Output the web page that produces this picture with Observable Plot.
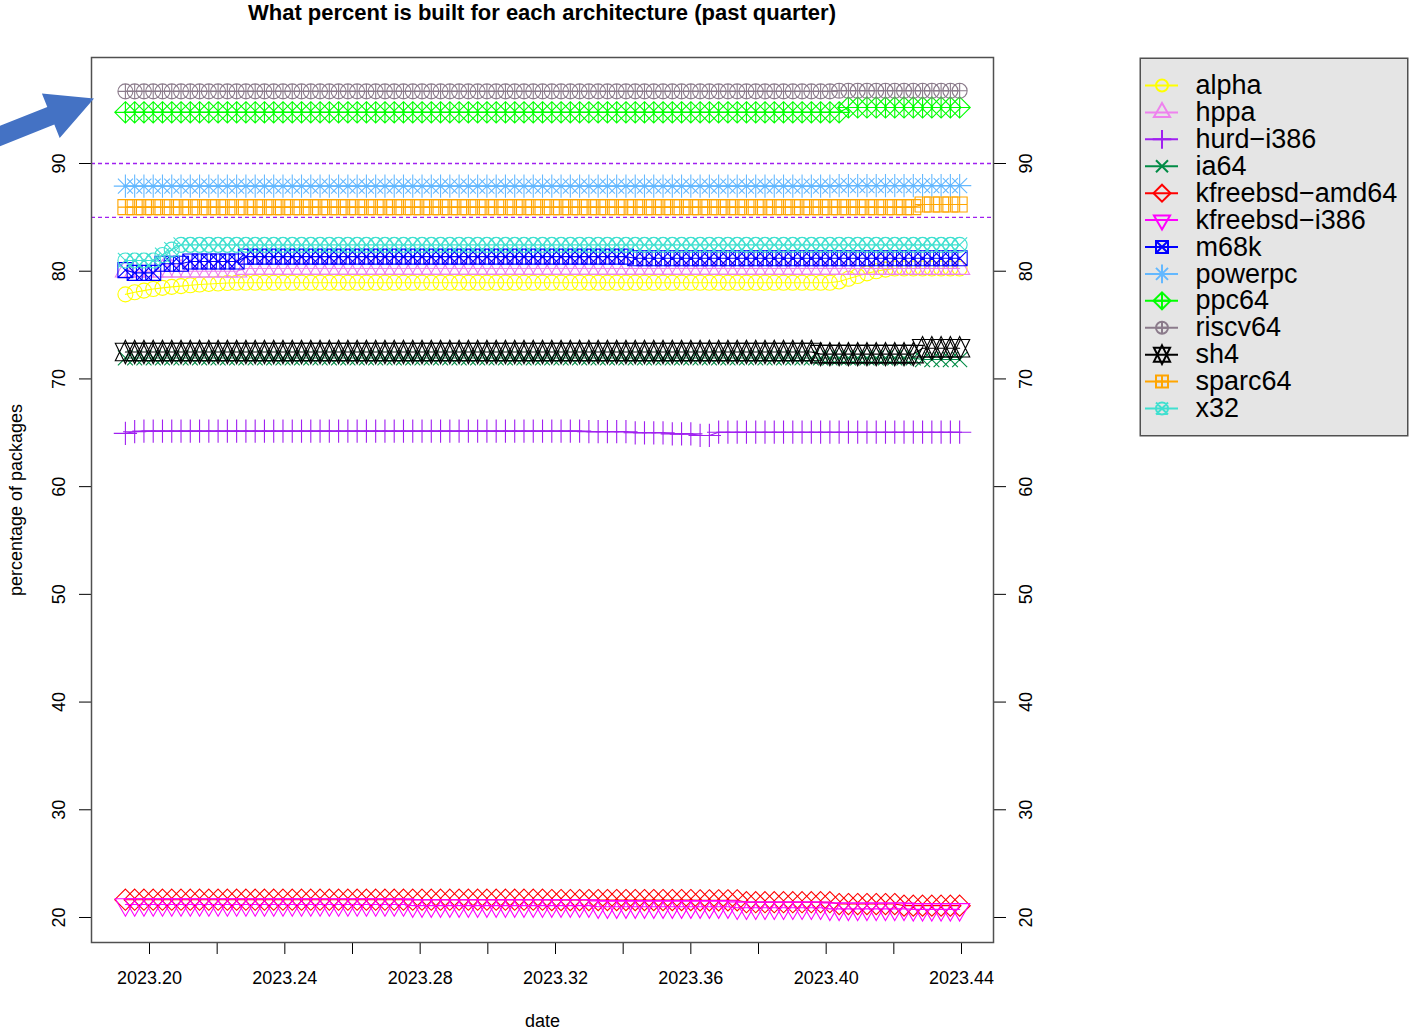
<!DOCTYPE html>
<html><head><meta charset="utf-8">
<script src="https://cdn.jsdelivr.net/npm/d3@7"></script>
<script src="https://cdn.jsdelivr.net/npm/@observablehq/plot@0.6"></script>
<style>
html,body{margin:0;padding:0;background:#fff;}
#wrap{position:relative;width:1409px;height:1032px;overflow:hidden;font-family:"Liberation Sans",Arial,Helvetica,sans-serif;}
#title{height:26px;line-height:26px;margin-left:91px;width:902px;text-align:center;font-weight:bold;font-size:22px;color:#000;white-space:nowrap;}
#legend{position:absolute;left:1139px;top:57px;}
#arrow{position:absolute;left:0;top:0;}
</style></head><body>
<div id="wrap">
<div id="title">What percent is built for each architecture (past quarter)</div>
<div id="chart"></div>
<div id="legend"></div>
<svg id="arrow" width="100" height="150" viewBox="0 0 100 150"><polygon points="-8.4,129.2 47.3,107 41.9,93.5 94,98.5 59.7,138.1 54.3,124.6 -1.4,146.8" fill="#4472C4"/></svg>
</div>
<script>
// ---- categories ----
const names = ["alpha","hppa","hurd-i386","ia64","kfreebsd-amd64","kfreebsd-i386","m68k","powerpc","ppc64","riscv64","sh4","sparc64","x32"];
const colors = ["#FFFF00","#EE82EE","#A020F0","#008B45","#FF0000","#FF00FF","#0000FF","#63B8FF","#00FF00","#8B7B8B","#000000","#FFA500","#40E0D0"];

// ---- dates: day of year (0-based) of each sample, 2023 ----
const year = 2023;
const dayFraction = 0.4;
const days = [70,71,72,73,74,75,76,77,78,79,
80,81,82,83,84,85,86,87,88,89,
90,91,92,93,94,95,96,97,98,99,
100,101,102,103,104,105,106,107,108,109,
110,111,112,113,114,115,116,117,118,119,
120,121,122,123,124,125,126,127,128,129,
130,131,132,133,134,135,136,137,138,139,
140,141,142,143,144,145,146,147,148,149,
150,151,152,153,154,155,156,157,158,159,
160];

// ---- tick labels ----
const xTicks = [2023.20,2023.22,2023.24,2023.26,2023.28,2023.30,2023.32,2023.34,2023.36,2023.38,2023.40,2023.42,2023.44];
const xLabels = [2023.20,2023.24,2023.28,2023.32,2023.36,2023.40,2023.44];
const yTicks = [20,30,40,50,60,70,80,90];
const refLines = [90,85];

// ---- series values (percentage of packages) ----
const alpha = [77.85,78.05,78.2,78.35,78.45,78.55,78.62,78.7,78.76,78.82,
78.86,78.9,78.93,78.93,78.93,78.93,78.93,78.93,78.93,78.93,
78.93,78.93,78.93,78.93,78.93,78.93,78.93,78.93,78.93,78.93,
78.93,78.93,78.93,78.93,78.93,78.93,78.93,78.93,78.93,78.93,
78.93,78.93,78.93,78.93,78.93,78.93,78.93,78.93,78.93,78.93,
78.93,78.93,78.93,78.93,78.93,78.93,78.93,78.93,78.93,78.93,
78.93,78.93,78.93,78.93,78.93,78.93,78.93,78.93,78.93,78.93,
78.93,78.93,78.93,78.93,78.93,78.93,78.93,79.05,79.3,79.55,
79.8,80.0,80.15,80.25,80.25,80.25,80.25,80.25,80.25,80.25,
80.25];
const hppa = [80.0,80.0,80.0,80.0,80.0,80.0,80.0,80.0,80.0,80.0,
80.0,80.0,80.0,80.25,80.25,80.25,80.25,80.25,80.25,80.25,
80.25,80.25,80.25,80.25,80.25,80.25,80.25,80.25,80.25,80.25,
80.25,80.25,80.25,80.25,80.25,80.25,80.25,80.25,80.25,80.25,
80.25,80.25,80.25,80.25,80.25,80.25,80.25,80.25,80.25,80.25,
80.25,80.25,80.25,80.25,80.25,80.25,80.25,80.25,80.25,80.25,
80.25,80.25,80.25,80.25,80.25,80.25,80.25,80.25,80.25,80.25,
80.25,80.25,80.25,80.25,80.25,80.25,80.25,80.25,80.25,80.25,
80.25,80.25,80.25,80.25,80.25,80.25,80.25,80.25,80.25,80.25,
80.25];
const hurd_i386 = [64.95,65.1,65.15,65.15,65.15,65.15,65.15,65.15,65.15,65.15,
65.15,65.15,65.15,65.15,65.15,65.15,65.15,65.15,65.15,65.15,
65.15,65.15,65.15,65.15,65.15,65.15,65.15,65.15,65.15,65.15,
65.15,65.15,65.15,65.15,65.15,65.15,65.15,65.15,65.15,65.15,
65.15,65.15,65.15,65.15,65.15,65.15,65.15,65.15,65.15,65.15,
65.1,65.1,65.1,65.1,65.1,65.0,65.0,65.0,65.0,64.9,
64.9,64.9,64.75,64.75,65.05,65.05,65.05,65.05,65.05,65.05,
65.05,65.05,65.05,65.05,65.05,65.05,65.05,65.05,65.05,65.05,
65.05,65.05,65.05,65.05,65.05,65.05,65.05,65.05,65.05,65.05,
65.05];
const ia64 = [71.95,71.95,71.95,71.95,71.95,71.95,71.95,71.95,71.95,71.95,
71.95,71.95,71.95,71.95,71.95,71.95,71.95,71.95,71.95,71.95,
71.95,71.95,71.95,71.95,71.95,71.95,71.95,71.95,71.95,71.95,
71.95,71.95,71.95,71.95,71.95,71.95,71.95,71.95,71.95,71.95,
71.95,71.95,71.95,71.95,71.95,71.95,71.95,71.95,71.95,71.95,
71.95,71.95,71.95,71.95,71.95,71.95,71.95,71.95,71.95,71.95,
71.95,71.95,71.95,71.95,71.95,71.95,71.95,71.95,71.95,71.95,
71.95,71.95,71.95,71.95,71.95,71.95,71.95,71.95,71.95,71.95,
71.95,71.95,71.95,71.95,71.95,71.95,71.8,71.8,71.8,71.8,
71.8];
const kfreebsd_amd64 = [21.65,21.65,21.65,21.65,21.65,21.65,21.65,21.65,21.65,21.65,
21.65,21.65,21.65,21.65,21.65,21.65,21.65,21.65,21.65,21.65,
21.65,21.65,21.65,21.65,21.65,21.65,21.65,21.65,21.65,21.65,
21.65,21.65,21.65,21.65,21.65,21.65,21.65,21.65,21.65,21.65,
21.65,21.65,21.65,21.65,21.65,21.65,21.62,21.62,21.62,21.62,
21.62,21.62,21.62,21.62,21.62,21.62,21.62,21.62,21.62,21.62,
21.62,21.62,21.6,21.6,21.6,21.6,21.6,21.42,21.42,21.42,
21.42,21.42,21.42,21.42,21.42,21.42,21.42,21.25,21.25,21.25,
21.25,21.25,21.25,21.25,21.1,21.1,21.1,21.1,21.1,21.1,
21.1];
const kfreebsd_i386 = [21.2,21.2,21.2,21.2,21.2,21.2,21.2,21.2,21.2,21.2,
21.2,21.2,21.2,21.2,21.2,21.2,21.2,21.2,21.2,21.2,
21.2,21.2,21.2,21.2,21.2,21.2,21.2,21.2,21.2,21.2,
21.2,21.1,21.1,21.1,21.1,21.1,21.1,21.1,21.1,21.1,
21.1,21.1,21.1,21.1,21.1,21.1,21.1,21.1,21.1,21.1,
21.1,21.0,21.0,21.0,21.0,21.0,21.0,21.0,21.0,21.0,
21.0,21.0,21.0,21.0,21.0,21.0,20.9,20.9,20.9,20.9,
20.9,20.9,20.9,20.9,20.9,20.9,20.8,20.8,20.8,20.8,
20.8,20.8,20.8,20.8,20.8,20.75,20.75,20.75,20.75,20.75,
20.75];
const m68k = [80.1,79.85,79.85,79.85,80.7,80.7,80.7,80.9,80.9,80.9,
80.9,80.9,80.9,81.35,81.35,81.35,81.35,81.35,81.35,81.35,
81.35,81.35,81.35,81.35,81.35,81.35,81.35,81.35,81.35,81.35,
81.35,81.35,81.35,81.35,81.35,81.35,81.35,81.35,81.35,81.35,
81.35,81.35,81.35,81.35,81.35,81.35,81.35,81.35,81.35,81.35,
81.35,81.35,81.35,81.35,81.35,81.2,81.2,81.2,81.2,81.2,
81.2,81.2,81.2,81.2,81.2,81.2,81.2,81.2,81.2,81.2,
81.2,81.2,81.2,81.2,81.2,81.2,81.2,81.2,81.2,81.2,
81.2,81.2,81.2,81.2,81.2,81.2,81.2,81.2,81.2,81.2,
81.2];
const powerpc = [87.9,87.9,87.9,87.9,87.9,87.9,87.9,87.9,87.9,87.9,
87.9,87.9,87.9,87.9,87.9,87.9,87.9,87.9,87.9,87.9,
87.9,87.9,87.9,87.9,87.9,87.9,87.9,87.9,87.9,87.9,
87.9,87.9,87.9,87.9,87.9,87.9,87.9,87.9,87.9,87.9,
87.9,87.9,87.9,87.9,87.9,87.9,87.9,87.9,87.9,87.9,
87.9,87.9,87.9,87.9,87.9,87.9,87.9,87.9,87.9,87.9,
87.9,87.9,87.9,87.9,87.9,87.9,87.9,87.9,87.9,87.9,
87.9,87.9,87.9,87.9,87.9,87.9,87.9,87.95,87.95,87.95,
87.95,87.95,87.95,87.95,87.95,87.95,87.95,87.95,87.95,87.95,
87.95];
const ppc64 = [94.75,94.75,94.75,94.75,94.75,94.75,94.75,94.75,94.75,94.75,
94.75,94.75,94.75,94.75,94.75,94.75,94.75,94.75,94.75,94.75,
94.75,94.75,94.75,94.75,94.75,94.75,94.75,94.75,94.75,94.75,
94.75,94.75,94.75,94.75,94.75,94.75,94.75,94.75,94.75,94.75,
94.75,94.75,94.75,94.75,94.75,94.75,94.75,94.75,94.75,94.75,
94.75,94.75,94.75,94.75,94.75,94.75,94.75,94.75,94.75,94.75,
94.75,94.75,94.75,94.75,94.75,94.75,94.75,94.75,94.75,94.75,
94.75,94.75,94.75,94.75,94.75,94.75,94.75,94.75,95.2,95.2,
95.2,95.2,95.2,95.2,95.2,95.2,95.2,95.2,95.2,95.2,
95.2];
const riscv64 = [96.7,96.7,96.7,96.7,96.7,96.7,96.7,96.7,96.7,96.7,
96.7,96.7,96.7,96.7,96.7,96.7,96.7,96.7,96.7,96.7,
96.7,96.7,96.7,96.7,96.7,96.7,96.7,96.7,96.7,96.7,
96.7,96.7,96.7,96.7,96.7,96.7,96.7,96.7,96.7,96.7,
96.7,96.7,96.7,96.7,96.7,96.7,96.7,96.7,96.7,96.7,
96.7,96.7,96.7,96.7,96.7,96.7,96.7,96.7,96.7,96.7,
96.7,96.7,96.7,96.7,96.7,96.7,96.7,96.7,96.7,96.7,
96.7,96.7,96.7,96.7,96.7,96.7,96.7,96.75,96.75,96.75,
96.75,96.75,96.75,96.75,96.75,96.75,96.75,96.75,96.75,96.75,
96.75];
const sh4 = [72.5,72.5,72.5,72.5,72.5,72.5,72.5,72.5,72.5,72.5,
72.5,72.5,72.5,72.5,72.5,72.5,72.5,72.5,72.5,72.5,
72.5,72.5,72.5,72.5,72.5,72.5,72.5,72.5,72.5,72.5,
72.5,72.5,72.5,72.5,72.5,72.5,72.5,72.5,72.5,72.5,
72.5,72.5,72.5,72.5,72.5,72.5,72.5,72.5,72.5,72.5,
72.5,72.5,72.5,72.5,72.5,72.5,72.5,72.5,72.5,72.5,
72.5,72.5,72.5,72.5,72.5,72.5,72.5,72.5,72.5,72.5,
72.5,72.5,72.5,72.5,72.5,72.3,72.3,72.3,72.3,72.3,
72.3,72.3,72.3,72.3,72.3,72.3,72.85,72.85,72.85,72.85,
72.85];
const sparc64 = [85.95,85.95,85.95,85.95,85.95,85.95,85.95,85.95,85.95,85.95,
85.95,85.95,85.95,85.95,85.95,85.95,85.95,85.95,85.95,85.95,
85.95,85.95,85.95,85.95,85.95,85.95,85.95,85.95,85.95,85.95,
85.95,85.95,85.95,85.95,85.95,85.95,85.95,85.95,85.95,85.95,
85.95,85.95,85.95,85.95,85.95,85.95,85.95,85.95,85.95,85.95,
85.95,85.95,85.95,85.95,85.95,85.95,85.95,85.95,85.95,85.95,
85.95,85.95,85.95,85.95,85.95,85.95,85.95,85.95,85.95,85.95,
85.95,85.95,85.95,85.95,85.95,85.95,85.95,85.95,85.95,85.95,
85.95,85.95,85.95,85.95,85.95,85.95,86.2,86.2,86.2,86.2,
86.2];
const x32 = [81.0,81.0,81.0,81.0,81.5,82.0,82.45,82.45,82.45,82.45,
82.45,82.45,82.45,82.45,82.45,82.45,82.45,82.45,82.45,82.45,
82.45,82.45,82.45,82.45,82.45,82.45,82.45,82.45,82.45,82.45,
82.45,82.45,82.45,82.45,82.45,82.45,82.45,82.45,82.45,82.45,
82.45,82.45,82.45,82.45,82.45,82.45,82.45,82.45,82.45,82.45,
82.45,82.45,82.45,82.45,82.45,82.45,82.45,82.45,82.45,82.45,
82.45,82.45,82.45,82.45,82.45,82.45,82.45,82.45,82.45,82.45,
82.45,82.45,82.45,82.45,82.45,82.45,82.45,82.45,82.45,82.45,
82.45,82.45,82.45,82.45,82.45,82.45,82.45,82.45,82.45,82.45,
82.45];

const seriesValues = [alpha,hppa,hurd_i386,ia64,kfreebsd_amd64,kfreebsd_i386,m68k,powerpc,ppc64,riscv64,sh4,sparc64,x32];

// ---- R-style plotting symbols (pch 1..13) ----
function sym(f){ return { draw(c, size){ const r = Math.sqrt(size/Math.PI); f(c, r); } }; }
const circP = (c,a)=>{ c.moveTo(a,0); c.arc(0,0,a,0,2*Math.PI); c.closePath(); };
const plusP = (c,a)=>{ c.moveTo(-a,0); c.lineTo(a,0); c.moveTo(0,-a); c.lineTo(0,a); };
const timesP = (c,a)=>{ c.moveTo(-a,-a); c.lineTo(a,a); c.moveTo(-a,a); c.lineTo(a,-a); };
const squareP = (c,a)=>{ c.moveTo(-a,-a); c.lineTo(a,-a); c.lineTo(a,a); c.lineTo(-a,a); c.closePath(); };
const diamondP = (c,a)=>{ c.moveTo(0,-a); c.lineTo(a,0); c.lineTo(0,a); c.lineTo(-a,0); c.closePath(); };
const triUpP = (c,ap,b,hw)=>{ c.moveTo(0,-ap); c.lineTo(hw,b); c.lineTo(-hw,b); c.closePath(); };
const triDnP = (c,ap,b,hw)=>{ c.moveTo(0,ap); c.lineTo(hw,-b); c.lineTo(-hw,-b); c.closePath(); };
const symbols = [
  sym((c,r)=>circP(c,r)),
  sym((c,r)=>triUpP(c,1.555*r,0.778*r,1.347*r)),
  sym((c,r)=>plusP(c,1.55*r)),
  sym((c,r)=>timesP(c,r)),
  sym((c,r)=>diamondP(c,1.414*r)),
  sym((c,r)=>triDnP(c,1.555*r,0.778*r,1.347*r)),
  sym((c,r)=>{squareP(c,r); timesP(c,r);}),
  sym((c,r)=>{plusP(c,1.55*r); timesP(c,r);}),
  sym((c,r)=>{diamondP(c,1.414*r); plusP(c,1.414*r);}),
  sym((c,r)=>{circP(c,r); plusP(c,r);}),
  sym((c,r)=>{triUpP(c,1.555*r,1.166*r,1.347*r); triDnP(c,1.555*r,1.166*r,1.347*r);}),
  sym((c,r)=>{squareP(c,r); plusP(c,r);}),
  sym((c,r)=>{circP(c,r); timesP(c,r);})
];

const decimalDate = days.map(d => year + (d + dayFraction) / 365);
const table = names.map((name,k) => seriesValues[k].map((v,i) => ({name, date: decimalDate[i], pct: v})));

const font = '"Liberation Sans", Arial, Helvetica, sans-serif';
const axisColor = "#505050";
const xDomain = [2023.182857, 2023.449458];
const yDomain = [17.679, 99.841];

const dataMarks = names.flatMap((name,k) => [
  Plot.line(table[k], {x:"date", y:"pct", stroke: colors[k], strokeWidth: 1.1}),
  Plot.dot(table[k], {x:"date", y:"pct", stroke: colors[k], fill:"none", symbol: symbols[k], r: 7.5, strokeWidth: 1.1})
]);

const isLabelled = d => xLabels.some(v => Math.abs(v - d) < 1e-9);

function makeChart(yAxisMode, extraMarks) {
  return Plot.plot({
    width: 1409, height: 1006,
    marginTop: 31, marginBottom: 90, marginLeft: 91, marginRight: 416,
    style: {fontFamily: font, fontSize: "18px", background: "transparent", overflow: "visible", color: "#000"},
    x: {domain: xDomain, ticks: xTicks, tickSize: 12, tickPadding: 17, tickFormat: d => isLabelled(d) ? d.toFixed(2) : "", label: null},
    y: {domain: yDomain, axis: yAxisMode, ticks: yTicks, tickSize: 12, tickFormat: () => "", label: null},
    marks: [
      ...dataMarks,
      Plot.ruleY(refLines, {stroke: "#A020F0", strokeDasharray: "4,3", strokeWidth: 1.3}),
      ...extraMarks,
      Plot.text(yTicks, {y: d => d, text: d => String(d), frameAnchor: "left", dx: -32, rotate: -90, fontSize: 18, textAnchor: "middle", lineAnchor: "middle"}),
      Plot.text(yTicks, {y: d => d, text: d => String(d), frameAnchor: "right", dx: 33, rotate: -90, fontSize: 18, textAnchor: "middle", lineAnchor: "middle"}),
      Plot.text(["percentage of packages"], {text: d => d, frameAnchor: "left", dx: -75, rotate: -90, fontSize: 18, textAnchor: "middle", lineAnchor: "middle"}),
      Plot.text(["date"], {text: d => d, frameAnchor: "bottom", dy: 79, fontSize: 18, textAnchor: "middle", lineAnchor: "middle"}),
      Plot.frame({stroke: axisColor, strokeWidth: 1.5})
    ]
  });
}

let chart;
try {
  chart = makeChart("both", []);
} catch (e) {
  // fallback: right-side ticks as short rules just outside the frame
  const pxPerUnit = 902 / (xDomain[1] - xDomain[0]);
  chart = makeChart("left", [Plot.ruleY(yTicks, {x1: xDomain[1], x2: xDomain[1] + 12 / pxPerUnit, stroke: axisColor})]);
}
d3.select(chart).selectAll('g[aria-label="x-axis"] line, g[aria-label="y-axis"] line').attr("stroke", axisColor);
document.getElementById("chart").appendChild(chart);

// ---- legend (one row per series, rows indexed 0..12) ----
const legendLabels = names.map(n => n.replace("-", "\u2212"));
const legendRows = names.map((n, k) => ({k, label: legendLabels[k], color: colors[k]}));
const legend = Plot.plot({
  width: 269, height: 379, margin: 0,
  style: {fontFamily: font, background: "transparent", overflow: "visible", color: "#000"},
  x: {domain: [0, 1], range: [6, 39], axis: null},
  y: {domain: [0, names.length - 1], range: [28, 351], axis: null},
  marks: [
    Plot.frame({fill: "#E5E5E5", stroke: axisColor, strokeWidth: 1.5, inset: 0.75}),
    ...legendRows.flatMap(row => [
      Plot.ruleY([row], {y: "k", x1: 0, x2: 1, stroke: row.color, strokeWidth: 2}),
      Plot.dot([row], {x: 0.5, y: "k", stroke: row.color, fill: "none", symbol: symbols[row.k], r: 6, strokeWidth: 2})
    ]),
    Plot.text(legendRows, {x: 1, dx: 17, y: "k", text: "label", textAnchor: "start", lineAnchor: "middle", fontSize: 27})
  ]
});
document.getElementById("legend").appendChild(legend);
</script>
</body></html>
